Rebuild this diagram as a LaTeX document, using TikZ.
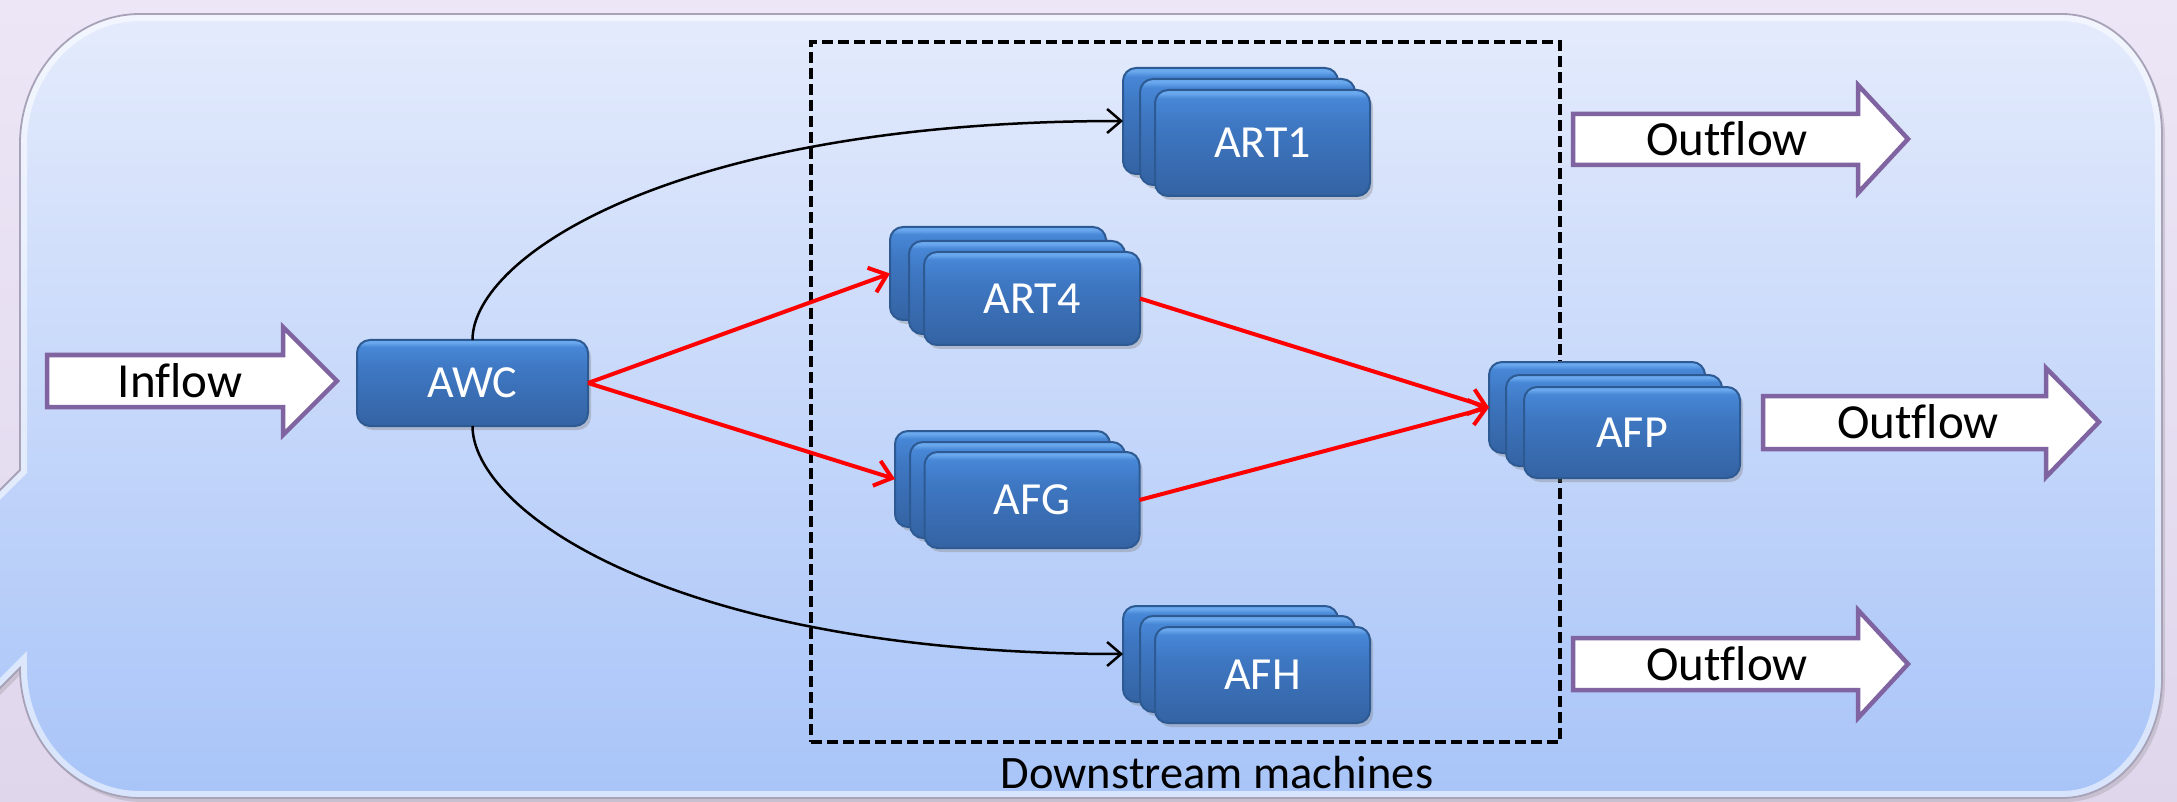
\documentclass[tikz,border=0pt]{standalone}
\usepackage{fontspec}
\setmainfont[Ligatures=NoCommon]{Carlito}
\usetikzlibrary{arrows.meta,shadows}
\definecolor{bgtop}{HTML}{ECE6F6}
\definecolor{bgbot}{HTML}{E0D6EC}
\definecolor{caltop}{HTML}{E4EBFC}
\definecolor{calbot}{HTML}{A8C4F8}
\definecolor{calline}{HTML}{A8A2B8}
\definecolor{boxbot}{HTML}{3463A3}
\definecolor{boxmid}{HTML}{3E77C2}
\definecolor{boxmidb}{HTML}{4787D6}
\definecolor{boxhi}{HTML}{6AA8EE}
\definecolor{boxedge}{HTML}{2D5A92}
\definecolor{flowpurple}{HTML}{8064A2}
\definecolor{redline}{HTML}{FF0000}
\pgfdeclareverticalshading{machineshade}{100bp}{color(0bp)=(boxbot); color(25bp)=(boxbot); color(58bp)=(boxmid); color(71bp)=(boxmidb); color(73.5bp)=(boxhi); color(100bp)=(boxhi)}
\newcommand\myboxfont{\fontsize{46}{54}\selectfont}
\newcommand\myflowfont{\fontsize{49}{58}\selectfont}
\newcommand\mygroupfont{\fontsize{46.5}{54}\selectfont}
\newcommand\calloutpath{(20,-470) -- (20,-144) arc[start angle=180,end angle=90,x radius=120pt,y radius=130pt] -- (2062,-14) arc[start angle=90,end angle=0,x radius=100pt,y radius=120pt] -- (2162,-678) arc[start angle=0,end angle=-90,x radius=100pt,y radius=120pt] -- (140,-798) arc[start angle=-90,end angle=-180,x radius=120pt,y radius=130pt] -- (-30,-718) -- (-30,-520) -- cycle}
\tikzset{
  machine/.style={draw=boxedge, line width=2pt, rounded corners=13pt, shading=machineshade,
    inner sep=0pt, outer sep=0pt, text=white, font=\myboxfont,
    drop shadow={shadow xshift=3pt, shadow yshift=-4pt, opacity=0.35}},
  flowarrow/.style={draw=flowpurple, line width=4.5pt, fill=white, line join=miter},
  flowtext/.style={font=\myflowfont, text=black, inner sep=0pt},
  redconn/.style={draw=redline, line width=4pt, -{Straight Barb[length=16pt,width=26pt,line width=4pt]}},
  blackconn/.style={draw=black, line width=2.5pt, -{Straight Barb[length=14pt,width=24pt,line width=2.5pt]}},
  groupbox/.style={draw=black, line width=4pt, dash pattern=on 11pt off 5pt, inner sep=0pt, outer sep=0pt}
}
\begin{document}
\begin{tikzpicture}[x=1pt,y=1pt]
\useasboundingbox (0,0) rectangle (2177,-802);
\clip (0,0) rectangle (2177,-802);
% background
\fill[top color=bgtop, bottom color=bgbot] (0,0) rectangle (2177,-802);
% callout
\path[top color=caltop, bottom color=calbot, drop shadow={shadow xshift=3pt, shadow yshift=-4pt, opacity=0.25}] \calloutpath;
\begin{scope}
\clip \calloutpath;
\draw[white, line width=14pt, opacity=0.55] \calloutpath;
\end{scope}
\draw[calline, line width=1.8pt] \calloutpath;

% group frame
\node[groupbox, minimum width=749pt, minimum height=700pt, anchor=north west] (group) at (811,-42) {};
\node[font=\mygroupfont, anchor=base, inner sep=0pt] (grouplabel) at (1217,-788) {Downstream machines};

% flow arrows
\draw[flowarrow] (47,-355) -- (283,-355) -- (283,-327) -- (337,-381) -- (283,-435) -- (283,-407) -- (47,-407) -- cycle;
\node[flowtext] (inflow) at (180,-381) {Inflow};
\draw[flowarrow] (1573,-114) -- (1858,-114) -- (1858,-85) -- (1908,-139) -- (1858,-193) -- (1858,-165) -- (1573,-165) -- cycle;
\node[flowtext] (out1) at (1727,-139) {Outflow};
\draw[flowarrow] (1763,-396) -- (2046,-396) -- (2046,-368) -- (2099,-422) -- (2046,-477) -- (2046,-449) -- (1763,-449) -- cycle;
\node[flowtext] (out2) at (1918,-422) {Outflow};
\draw[flowarrow] (1573,-638) -- (1858,-638) -- (1858,-610) -- (1908,-664) -- (1858,-718) -- (1858,-690) -- (1573,-690) -- cycle;
\node[flowtext] (out3) at (1727,-664) {Outflow};

% machines
\node[machine, minimum width=231pt, minimum height=86pt] (awc) at (472.5,-383) {AWC};

\node[machine, minimum width=215pt, minimum height=106pt] (art1b) at (1230.5,-121) {};
\node[machine, minimum width=215pt, minimum height=106pt] (art1m) at (1247.5,-132) {};
\node[machine, minimum width=215pt, minimum height=106pt] (art1) at (1262.5,-143) {ART1};

\node[machine, minimum width=216pt, minimum height=93pt] (art4b) at (998,-273.5) {};
\node[machine, minimum width=216pt, minimum height=93pt] (art4m) at (1017,-287.5) {};
\node[machine, minimum width=216pt, minimum height=93pt] (art4) at (1032,-298.5) {ART4};

\node[machine, minimum width=215pt, minimum height=96pt] (afgb) at (1002.5,-479) {};
\node[machine, minimum width=215pt, minimum height=96pt] (afgm) at (1017.5,-490) {};
\node[machine, minimum width=215pt, minimum height=96pt] (afg) at (1032,-500) {AFG};

\node[machine, minimum width=215pt, minimum height=96pt] (afhb) at (1230.5,-654) {};
\node[machine, minimum width=215pt, minimum height=96pt] (afhm) at (1247.5,-664) {};
\node[machine, minimum width=215pt, minimum height=96pt] (afh) at (1262.5,-675) {AFH};

\node[machine, minimum width=216pt, minimum height=91pt] (afpb) at (1597,-407.5) {};
\node[machine, minimum width=216pt, minimum height=91pt] (afpm) at (1614,-420.5) {};
\node[machine, minimum width=216pt, minimum height=91pt] (afp) at (1632,-432.5) {AFP};

% connectors
\draw[blackconn] (awc.north) .. controls +(0,83) and +(-450,0) .. (art1b.west);
\draw[blackconn] (awc.south) .. controls +(0,-85) and +(-450,0) .. (afhb.west);
\draw[redconn] (awc.east) -- (art4b.west);
\draw[redconn] (awc.east) -- (afgb.west);
\draw[redconn] (art4.east) -- (afpb.west);
\draw[redconn] (afg.east) -- (afpb.west);
\end{tikzpicture}
\end{document}
